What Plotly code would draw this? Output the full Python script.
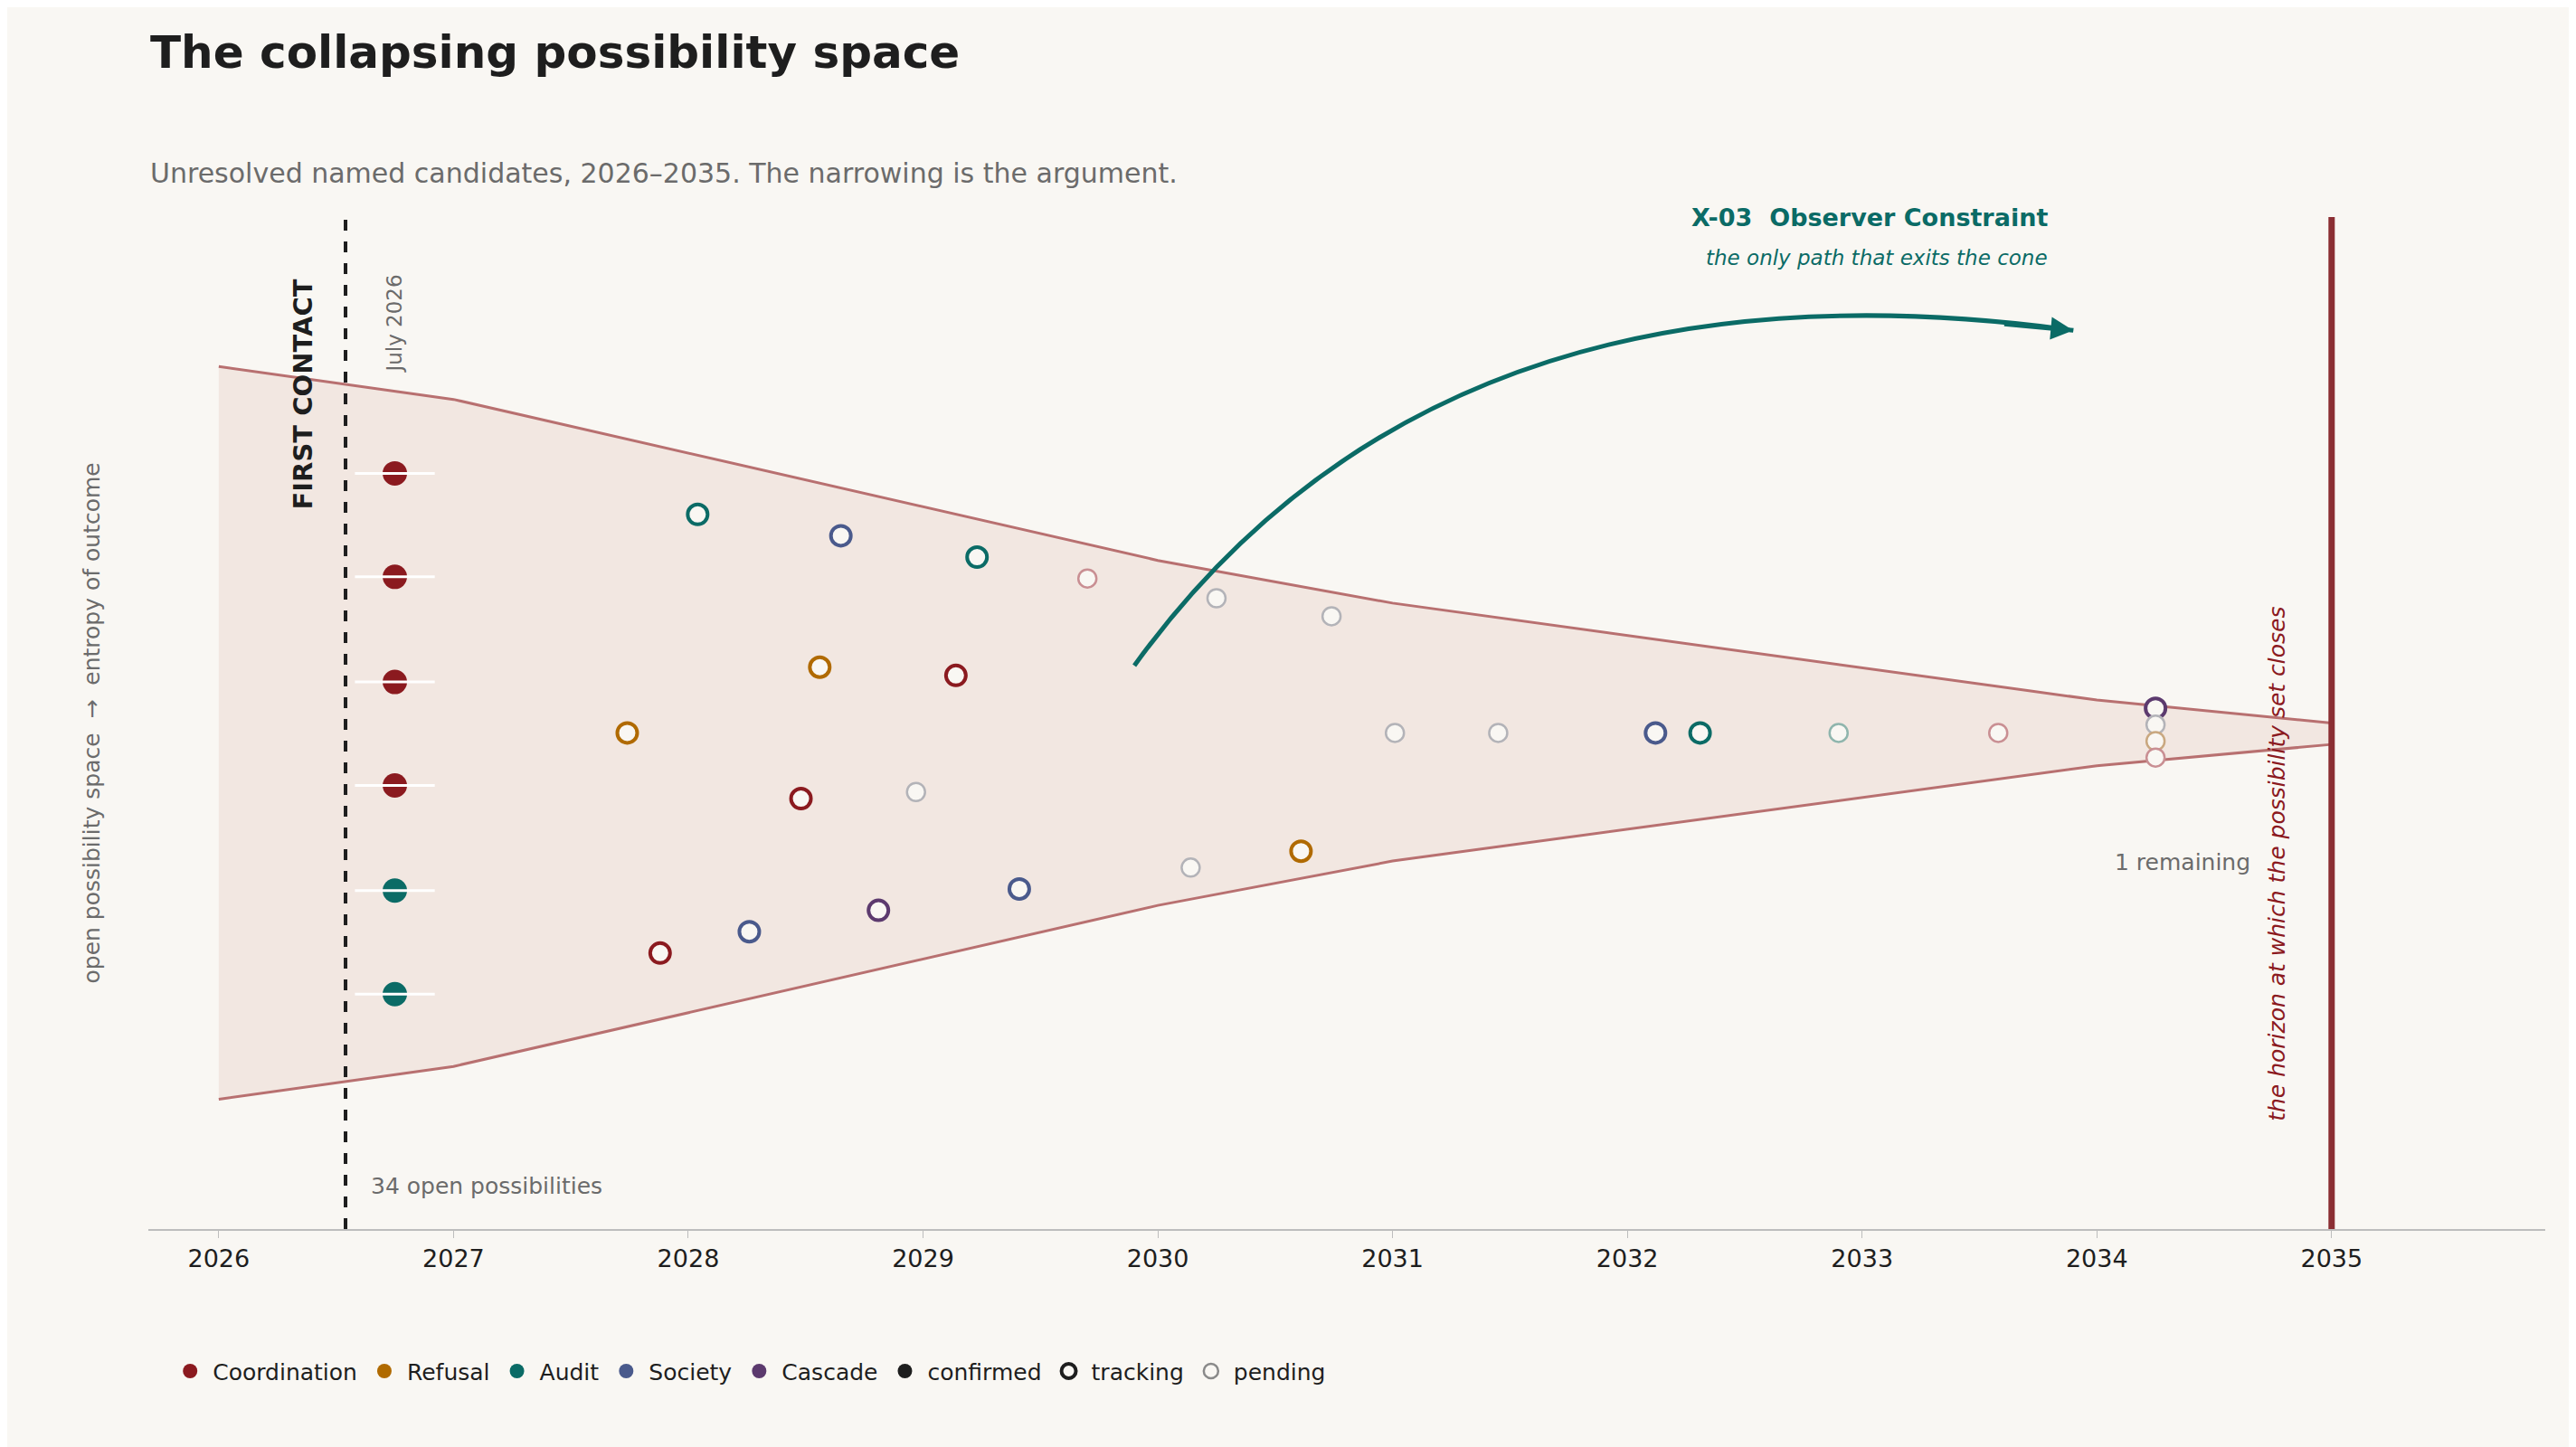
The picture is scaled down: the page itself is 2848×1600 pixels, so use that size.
import plotly.graph_objects as go

# cone outline (years, height)
cone_x = [2026, 2027, 2030, 2031, 2034, 2035]
cone_top = [525, 505, 407, 381, 322, 308]
cone_bot = [79, 99, 197, 224, 282, 295]

colors = {"Coordination": "#8b1a1f", "Refusal": "#b06a00", "Audit": "#0b6b66",
          "Society": "#4a5a8c", "Cascade": "#5c3a6e"}
faded = {"Coordination": "#c98f93", "Refusal": "#c9a880", "Audit": "#8fb5ad",
         "Society": "#a9adbf", "Cascade": "#a99bb3", "grey": "#b3b3b8"}

confirmed_x = [2026.75] * 6
confirmed_y = [460, 397, 333, 270, 206, 143]
confirmed_c = ["Coordination"] * 4 + ["Audit"] * 2

tracking_x = [2028.04, 2028.65, 2029.23, 2028.56, 2029.14, 2027.74, 2028.48, 2030.61,
              2029.41, 2028.81, 2028.26, 2027.88, 2032.12, 2032.31, 2034.25]
tracking_y = [435, 422, 409, 342, 337, 302, 262, 230, 207, 194, 181, 168, 302, 302, 317]
tracking_c = ["Audit", "Society", "Audit", "Refusal", "Coordination", "Refusal", "Coordination",
              "Refusal", "Society", "Cascade", "Society", "Coordination", "Society", "Audit", "Cascade"]

pending_x = [2029.70, 2030.25, 2030.74, 2031.01, 2031.45, 2032.90, 2033.58, 2028.97,
             2030.14, 2034.25, 2034.25, 2034.25]
pending_y = [396, 384, 373, 302, 302, 302, 302, 266, 220, 307, 297, 287]
pending_c = ["Coordination", "grey", "grey", "grey", "grey", "Audit", "Coordination", "grey",
             "grey", "grey", "Refusal", "Coordination"]

fig = go.Figure()
fig.add_trace(go.Scatter(x=cone_x, y=cone_bot, mode="lines", line=dict(color="#b87070", width=3),
                         showlegend=False, hoverinfo="skip"))
fig.add_trace(go.Scatter(x=cone_x, y=cone_top, mode="lines", line=dict(color="#b87070", width=3),
                         fill="tonexty", fillcolor="rgba(225,195,185,0.3)", showlegend=False))

# white ticks behind confirmed points
for y in confirmed_y:
    fig.add_shape(type="line", x0=2026.58, x1=2026.92, y0=y, y1=y,
                  line=dict(color="white", width=3), layer="above")

fig.add_trace(go.Scatter(x=confirmed_x, y=confirmed_y, mode="markers", showlegend=False,
                         marker=dict(size=27, color=[colors[c] for c in confirmed_c], line=dict(width=0))))
fig.add_trace(go.Scatter(x=tracking_x, y=tracking_y, mode="markers", showlegend=False,
                         marker=dict(size=22, color="#f9f7f3",
                                     line=dict(width=4, color=[colors[c] for c in tracking_c]))))
fig.add_trace(go.Scatter(x=pending_x, y=pending_y, mode="markers", showlegend=False,
                         marker=dict(size=20, color="#f9f7f3",
                                     line=dict(width=2.5, color=[faded[c] for c in pending_c]))))

# legend entries
for name, c in colors.items():
    fig.add_trace(go.Scatter(x=[None], y=[None], mode="markers", name=name,
                             marker=dict(size=28, color=c)))
fig.add_trace(go.Scatter(x=[None], y=[None], mode="markers", name="confirmed",
                         marker=dict(size=28, color="#1e1e1e")))
fig.add_trace(go.Scatter(x=[None], y=[None], mode="markers", name="tracking",
                         marker=dict(size=24, color="#f9f7f3", line=dict(width=4, color="#1e1e1e"))))
fig.add_trace(go.Scatter(x=[None], y=[None], mode="markers", name="pending",
                         marker=dict(size=24, color="#f9f7f3", line=dict(width=2.5, color="#8a8a8a"))))

fig.add_shape(type="line", x0=2026.54, x1=2026.54, y0=0, y1=616, line=dict(color="#1e1e1e", width=4, dash="dash"))
fig.add_shape(type="line", x0=2035, x1=2035, y0=0, y1=616, line=dict(color="#8b2e33", width=7))
fig.add_shape(type="path", path="M 2029.9 343 Q 2031.2 600 2033.9 547",
              line=dict(color="#0b6b66", width=5))

fig.add_annotation(x=2033.9, y=547, ax=2033.6, ay=551, xref="x", yref="y", axref="x", ayref="y",
                   text="", showarrow=True, arrowhead=2, arrowsize=1, arrowwidth=5, arrowcolor="#0b6b66")

f = "DejaVu Sans"
ann = [
    dict(x=2026.36, y=508, text="<b>FIRST CONTACT</b>", textangle=-90, font=dict(size=29, color="#1e1e1e")),
    dict(x=2026.75, y=551, text="July 2026", textangle=-90, font=dict(size=23, color="#6b6b6b")),
    dict(x=2026.64, y=26, text="34 open possibilities", xanchor="left", font=dict(size=25, color="#6b6b6b")),
    dict(x=2034.66, y=223, text="1 remaining", xanchor="right", font=dict(size=25, color="#6b6b6b")),
    dict(x=2034.77, y=222, text="<i>the horizon at which the possibility set closes</i>", textangle=-90,
         font=dict(size=25, color="#8b1a1f")),
    dict(x=2033.8, y=616, text="<b>X-03  Observer Constraint</b>", xanchor="right",
         font=dict(size=27, color="#0b6b66")),
    dict(x=2033.8, y=591, text="<i>the only path that exits the cone</i>", xanchor="right",
         font=dict(size=23, color="#0b6b66")),
]
for a in ann:
    fig.add_annotation(xref="x", yref="y", showarrow=False, **a)

fig.add_annotation(xref="paper", yref="paper", x=-0.03, y=0.5, showarrow=False, textangle=-90,
                   text="open possibility space  →  entropy of outcome", font=dict(size=25, color="#6b6b6b"))
fig.add_annotation(xref="paper", yref="paper", x=0, y=1.0, yshift=182, xanchor="left", yanchor="middle",
                   showarrow=False, text="<b>The collapsing possibility space</b>",
                   font=dict(size=50, color="#1e1e1e"))
fig.add_annotation(xref="paper", yref="paper", x=0, y=1.0, yshift=49, xanchor="left", yanchor="middle",
                   showarrow=False, text="Unresolved named candidates, 2026–2035. The narrowing is the argument.",
                   font=dict(size=30, color="#6b6b6b"))

fig.update_layout(
    width=2848, height=1600, paper_bgcolor="#f9f7f3", plot_bgcolor="#f9f7f3",
    font=dict(family=f, color="#1e1e1e"),
    margin=dict(l=156, r=42, t=232, b=249),
    xaxis=dict(range=[2025.7, 2035.91], tickvals=list(range(2026, 2036)), showgrid=False, zeroline=False,
               showline=True, linecolor="#bdbdbd", linewidth=2, ticks="outside", ticklen=8,
               tickcolor="#bdbdbd", tickfont=dict(size=27)),
    yaxis=dict(range=[0, 616], visible=False),
    legend=dict(orientation="h", x=0.008, y=-0.12, xanchor="left", yanchor="top", traceorder="normal",
                font=dict(size=25), itemwidth=40, tracegroupgap=0),
)
fig.write_html("out.html")
